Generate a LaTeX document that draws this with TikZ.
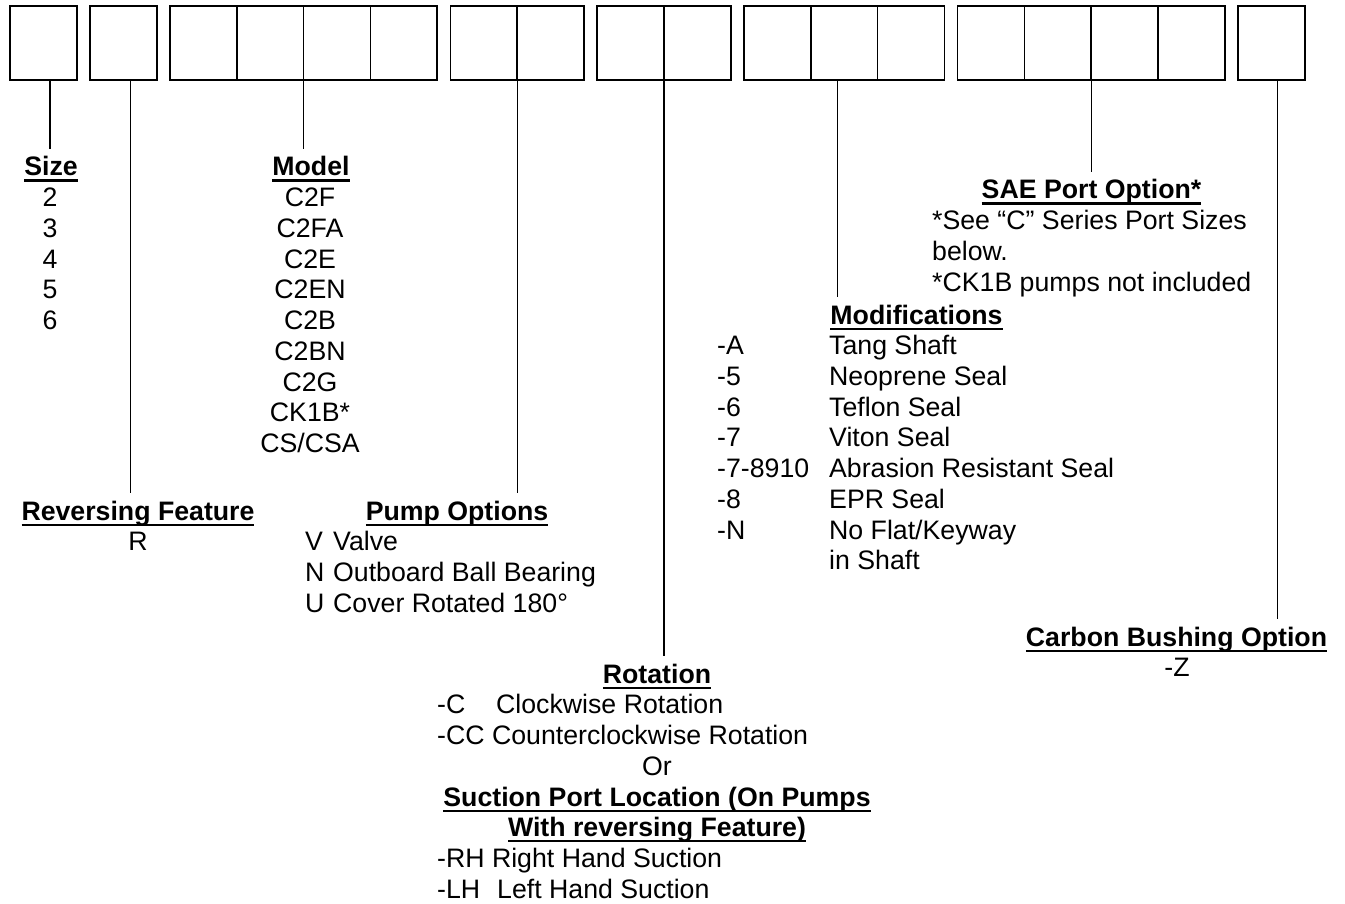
\documentclass[tikz,border=0pt]{standalone}
\usepackage{fontspec}
\setmainfont{Liberation Sans}
\usepackage{tikz}
\newcommand{\ulhead}[1]{\setbox0\hbox{\bfseries #1}\rlap{\rule[-5.6pt]{\wd0}{2.1pt}}\box0}
\tikzset{
  cellbox/.style={draw,line width=1.6pt,minimum width=66.8pt,minimum height=74pt,inner sep=0pt,outer sep=0pt,anchor=north west},
  leader/.style={line width=1.3pt},
  headtxt/.style={inner sep=0pt,outer sep=7.5pt,anchor=base},
  listtxt/.style={inner sep=0pt,anchor=base},
  listleft/.style={inner sep=0pt,anchor=base west}
}

\begin{document}
\begin{tikzpicture}[x=1pt,y=-1pt,font=\fontsize{26.7}{30.75}\selectfont]
  \useasboundingbox (0,0) rectangle (1345,904);
  % code boxes
  \foreach \i/\x in {1/10,2/90,3/170,4/236.8,5/303.6,6/370.4,7/450.4,8/517.2,9/597.2,
    10/664,11/744,12/810.8,13/877.6,14/957.6,15/1024.4,16/1091.2,17/1158,18/1238}
    \node[cellbox] (c\i) at (\x,6.2) {};
  % column headings
  \node[headtxt] (size) at (51,176) {\ulhead{Size}};
  \node[headtxt] (model) at (311,176) {\ulhead{Model}};
  \node[headtxt] (revf) at (138,520) {\ulhead{Reversing Feature}};
  \node[headtxt] (pumpopt) at (457,520) {\ulhead{Pump Options}};
  \node[headtxt] (rot) at (657,683) {\ulhead{Rotation}};
  \node[headtxt] (modif) at (916.5,324) {\ulhead{Modifications}};
  \node[headtxt] (saeport) at (1091.5,199) {\ulhead{SAE Port Option*}};
  \node[headtxt] (carbon) at (1176.5,646) {\ulhead{Carbon Bushing Option}};
  % lists
  \node[listtxt] (sizelist) at (50,206.75) {\begin{tabular}[t]{@{}c@{}}2\\3\\4\\5\\6\end{tabular}};
  \node[listtxt] (modellist) at (310,206.75) {\begin{tabular}[t]{@{}c@{}}C2F\\C2FA\\C2E\\C2EN\\C2B\\C2BN\\C2G\\CK1B*\\CS/CSA\end{tabular}};
  \node[listtxt] (revlist) at (138,550.75) {R};
  \node[listleft] (pumplist) at (305,550.75) {\begin{tabular}[t]{@{}p{28pt}@{}l@{}}V & Valve\\N & Outboard Ball Bearing\\U & Cover Rotated 180°\end{tabular}};
  \node[listleft] (rotlist) at (437,713.75) {\begin{tabular}[t]{@{}l@{}}\makebox[59pt][l]{-C}Clockwise Rotation\\-CC Counterclockwise Rotation\end{tabular}};
  \node[listtxt] (rotor) at (657,775.25) {Or};
  \node[listtxt] (suction) at (657,806) {\begin{tabular}[t]{@{}c@{}}\ulhead{Suction Port Location (On Pumps}\\\ulhead{With reversing Feature)}\end{tabular}};
  \node[listleft] (suclist) at (437,867.5) {\begin{tabular}[t]{@{}l@{}}-RH Right Hand Suction\\\makebox[60pt][l]{-LH}Left Hand Suction\end{tabular}};
  \node[listleft] (modlist) at (717,354.75) {\begin{tabular}[t]{@{}p{112pt}@{}l@{}}-A & Tang Shaft\\-5 & Neoprene Seal\\-6 & Teflon Seal\\-7 & Viton Seal\\-7-8910 & Abrasion Resistant Seal\\-8 & EPR Seal\\-N & No Flat/Keyway\\ & in Shaft\end{tabular}};
  \node[listleft] (saelist) at (932,229.75) {\begin{tabular}[t]{@{}l@{}}*See “C” Series Port Sizes\\{}below.\\{}*CK1B pumps not included\end{tabular}};
  \node[listtxt] (carblist) at (1177,676.5) {-Z};
  % leaders
  \coordinate (szl) at ([xshift=6.6pt]c1.south);
  \coordinate (rvl) at ([xshift=7pt]c2.south);
  \coordinate (mdl) at ([xshift=-7pt]c12.south);
  \coordinate (cbl) at ([xshift=6pt]c18.south);
  \draw[leader] (szl) -- (szl |- size.north);
  \draw[leader] (rvl) -- (rvl |- revf.north);
  \draw[leader] (c4.south east) -- (c4.south east |- model.north);
  \draw[leader] (c7.south east) -- (c7.south east |- pumpopt.north);
  \draw[leader] (c9.south east) -- (c9.south east |- rot.north);
  \draw[leader] (mdl) -- (mdl |- modif.north);
  \draw[leader] (c15.south east) -- (c15.south east |- saeport.north);
  \draw[leader] (cbl) -- (cbl |- carbon.north);
\end{tikzpicture}
\end{document}
